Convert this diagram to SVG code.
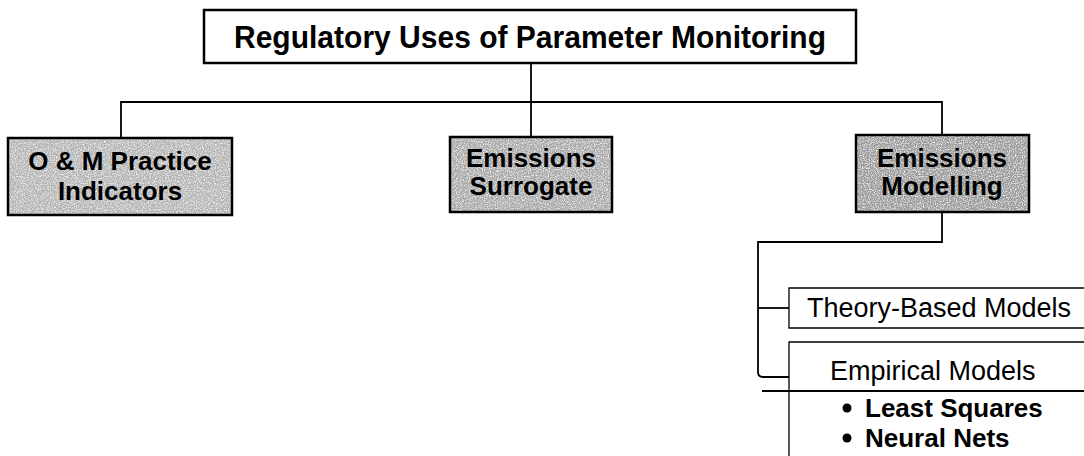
<svg xmlns="http://www.w3.org/2000/svg" width="1084" height="456" viewBox="0 0 1084 456">
<defs>
<filter id="grain" x="0" y="0" width="100%" height="100%">
<feTurbulence type="fractalNoise" baseFrequency="0.85" numOctaves="2" seed="3" result="n"/>
<feColorMatrix in="n" type="matrix" values="0 0 0 0 1  0 0 0 0 1  0 0 0 0 1  0 0 0 -2.2 1.25" result="w"/>
<feComposite in="w" in2="SourceGraphic" operator="in" result="wc"/>
<feMerge><feMergeNode in="SourceGraphic"/><feMergeNode in="wc"/></feMerge>
</filter>
</defs>
<style>
.bg{fill:#ffffff}
.line{fill:none;stroke:#000;stroke-width:1.8}
.thin{fill:none;stroke:#000;stroke-width:1.3}
.title{fill:#fff;stroke:#000;stroke-width:2.5}
.fillg{filter:url(#grain)}
.frame{fill:none;stroke:#000;stroke-width:2.5}
.tb{font-family:"Liberation Sans",Arial,sans-serif;font-weight:bold;fill:#000;text-anchor:middle}
.tn{font-family:"Liberation Sans",Arial,sans-serif;fill:#000}
</style>
<rect class="bg" x="0" y="0" width="1084" height="456"/>
<g id="connectors">
<path class="line" d="M531 63 V137"/>
<path class="line" d="M121 138 V102 H942 V135"/>
<path class="line" d="M942 212 V242 H758 V372 Q758 377 763 377 H789"/>
<path class="line" d="M758 308 H789"/>
<path class="line" d="M762 391 H1084"/>
</g>
<g id="title">
<rect class="title" x="204" y="10" width="652" height="53"/>
<text class="tb" x="530" y="48" font-size="32" textLength="592" lengthAdjust="spacingAndGlyphs">Regulatory Uses of Parameter Monitoring</text>
</g>
<g id="om">
<rect class="fillg" x="8" y="138" width="224" height="77" fill="#b4b4b4"/>
<rect class="frame" x="8" y="138" width="224" height="77"/>
<text class="tb" x="120" y="170" font-size="26">O &amp; M Practice</text>
<text class="tb" x="120" y="200" font-size="26">Indicators</text>
</g>
<g id="surrogate">
<rect class="fillg" x="450" y="137" width="162" height="75" fill="#a8a8a8"/>
<rect class="frame" x="450" y="137" width="162" height="75"/>
<text class="tb" x="531" y="167" font-size="26">Emissions</text>
<text class="tb" x="531" y="195" font-size="26">Surrogate</text>
</g>
<g id="modelling">
<rect class="fillg" x="856" y="135" width="173" height="77" fill="#9a9a9a"/>
<rect class="frame" x="856" y="135" width="173" height="77"/>
<text class="tb" x="942" y="167" font-size="26">Emissions</text>
<text class="tb" x="942" y="195" font-size="26">Modelling</text>
</g>
<g id="theory">
<path class="thin" d="M1090 288 H789 V328 H1090"/>
<text class="tn" x="807" y="317" font-size="27">Theory-Based Models</text>
</g>
<g id="empirical">
<path class="thin" d="M1090 342 H789 V460"/>
<text class="tn" x="830" y="380" font-size="27">Empirical Models</text>
<circle cx="847" cy="408" r="4.5" fill="#000"/>
<text class="tn" x="865" y="417" font-size="26" font-weight="bold">Least Squares</text>
<circle cx="847" cy="438" r="4.5" fill="#000"/>
<text class="tn" x="865" y="447" font-size="26" font-weight="bold">Neural Nets</text>
</g>
</svg>
